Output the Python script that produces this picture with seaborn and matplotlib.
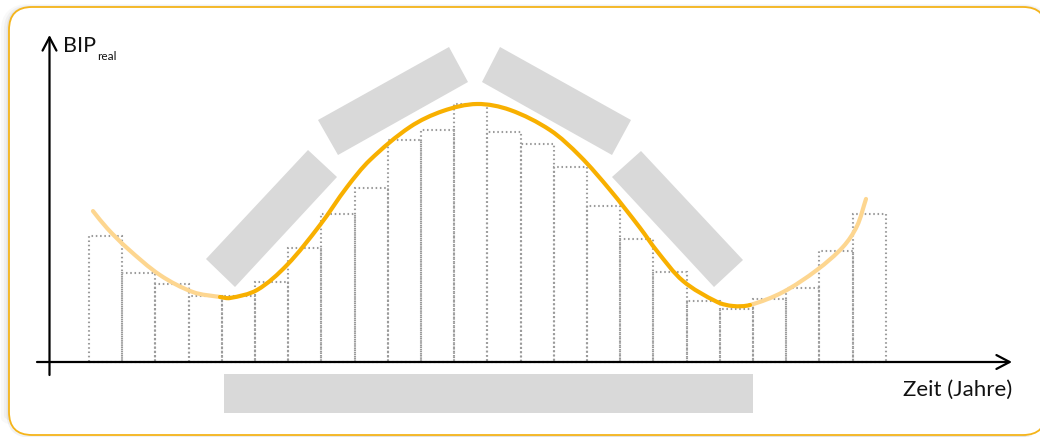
import matplotlib
matplotlib.use("Agg")
import matplotlib.pyplot as plt
import matplotlib.transforms as mtransforms
from matplotlib.patches import Polygon, Rectangle, FancyBboxPatch, PathPatch
from matplotlib.path import Path
import numpy as np
import pandas as pd
import seaborn as sns

# Real GDP per year (index units, peak year = 100)
years = list(range(1, 25))
bip_real = [48.8, 34.5, 30.2, 25.6, 25.6, 31.0, 44.2, 57.4, 67.4, 86.0, 89.9, 100.0,
            89.1, 84.5, 75.6, 60.5, 47.7, 34.9, 23.6, 20.5, 24.4, 28.7, 43.0, 57.4]

# Business-cycle trend curve (x on the same year axis, bar centres at 0..23)
trend_x = [-0.380, 0.042, 0.645, 1.639, 2.633, 3.446, 3.747, 4.560, 5.464, 6.458,
           7.271, 7.964, 9.169, 10.163, 11.187, 12.181, 13.386, 14.289, 15.193, 16.096,
           16.608, 17.392, 18.416, 18.898, 19.410, 20.404, 21.428, 22.211, 22.633, 22.904]
trend_y = [58.5, 51.9, 44.2, 33.7, 27.1, 25.2, 24.8, 27.9, 37.6, 53.1,
           67.8, 78.3, 91.1, 97.3, 100.0, 97.7, 89.9, 79.8, 66.7, 52.0,
           43.0, 31.4, 23.3, 21.7, 22.1, 27.1, 35.7, 44.6, 52.7, 63.2]
# one full cycle (trough to trough) is highlighted
cycle_start, cycle_end = 5, 24

y_label = "BIP"
y_label_sub = "real"
x_label = "Zeit (Jahre)"

ORANGE = "#f8b000"
ORANGE_LIGHT = "#fdd690"
GREY_BOX = "#d9d9d9"
DOTS = "#9b9b9b"

sns.set_style("white")
plt.rcParams["font.family"] = ["Lato", "DejaVu Sans"]

W, H = 1040, 437
fig = plt.figure(figsize=(W / 100, H / 100), dpi=100)
ax = fig.add_axes([0, 0, 1, 1])
ax.set_facecolor("none")
ax.set_zorder(2)

# pixel-style layout transform for frame, labels and placeholder boxes
px = mtransforms.Affine2D().scale(1 / W, -1 / H).translate(0, 1) + fig.transFigure

# rounded frame with a faint shadow (behind the axes)
for off, a in [(4, 0.025), (2.5, 0.035), (1.2, 0.05)]:
    fig.patches.append(FancyBboxPatch((9 - off, 7 + off * 0.3), 1037 + off, 428 + off,
                                      boxstyle="round,pad=0,rounding_size=23",
                                      transform=px, facecolor="none",
                                      edgecolor="black", alpha=a, lw=off * 1.5, zorder=-2))
fig.patches.append(FancyBboxPatch((9, 7), 1037, 428,
                                  boxstyle="round,pad=0,rounding_size=23",
                                  transform=px, facecolor="white",
                                  edgecolor="#f5b41a", lw=1.3, zorder=-1))

# dotted bars for the yearly values
df = pd.DataFrame({"Jahr": years, "BIP": bip_real})
sns.barplot(data=df, x="Jahr", y="BIP", fill=False, color=DOTS, width=1.0,
            errorbar=None, linewidth=1.5, linestyle=(0, (0.75, 1.3)), ax=ax, zorder=2)

# axis ranges so one bar is ~33 px wide
ax.set_xlim(-3.181, 28.145)
ax.set_ylim(-29.07, 140.31)
ax.set_axis_off()


def smooth_path(xs, ys):
    """Smooth cubic path through the given points (tangents from neighbours)."""
    P = ax.transData.transform(np.column_stack([xs, ys]))
    d = np.linalg.norm(np.diff(P, axis=0), axis=1)
    m = np.zeros_like(P)
    m[0] = (P[1] - P[0]) / d[0]
    m[-1] = (P[-1] - P[-2]) / d[-1]
    for i in range(1, len(P) - 1):
        m[i] = (P[i + 1] - P[i - 1]) / (d[i - 1] + d[i])
    verts, codes = [P[0]], [Path.MOVETO]
    for i in range(len(P) - 1):
        verts += [P[i] + m[i] * d[i] / 3, P[i + 1] - m[i + 1] * d[i] / 3, P[i + 1]]
        codes += [Path.CURVE4] * 3
    return Path(ax.transData.inverted().transform(np.array(verts)), codes)


# trend curve: smooth through all points, faded outside the highlighted cycle
full = smooth_path(trend_x, trend_y)
nv = 3  # vertices per segment


def sub_path(i0, i1):
    v = full.vertices[i0 * nv: i1 * nv + 1]
    c = [Path.MOVETO] + [Path.CURVE4] * (len(v) - 1)
    return Path(v, c)


for (i0, i1), col in [((0, cycle_start), ORANGE_LIGHT),
                      ((cycle_end, len(trend_x) - 1), ORANGE_LIGHT),
                      ((cycle_start, cycle_end), ORANGE)]:
    ax.add_patch(PathPatch(sub_path(i0, i1), facecolor="none", edgecolor=col, lw=3.0,
                           capstyle="round", joinstyle="round", zorder=4))

# placeholder boxes for phase labels
boxes = [
    [(308, 150), (337, 177), (235, 287), (206, 259)],
    [(449, 47), (468, 82), (338, 155), (318, 120)],
    [(500, 47), (482, 82), (612, 155), (631, 120)],
    [(641, 151), (612, 177), (714, 287), (743, 260)],
]
for b in boxes:
    ax.add_patch(Polygon(b, closed=True, transform=px, facecolor=GREY_BOX,
                         edgecolor="none", zorder=3, clip_on=False))
ax.add_patch(Rectangle((224, 374), 529, 39, transform=px, facecolor=GREY_BOX,
                       edgecolor="none", zorder=3, clip_on=False))

# coordinate axes with open arrowheads
arrow = dict(arrowstyle="->,head_length=0.95,head_width=0.5", lw=1.6, color="black",
             shrinkA=0, shrinkB=0)
ax.annotate("", xy=(1012, 362), xytext=(37, 362), xycoords=px, textcoords=px,
            arrowprops=arrow, zorder=5)
ax.annotate("", xy=(49.5, 35), xytext=(49.5, 375), xycoords=px, textcoords=px,
            arrowprops=arrow, zorder=5)

ax.text(63, 52, y_label, transform=px, fontsize=15.5, color="#111111",
        ha="left", va="baseline")
ax.text(97, 60, y_label_sub, transform=px, fontsize=8.5, color="#111111",
        ha="left", va="baseline")
ax.text(1012, 396, x_label, transform=px, fontsize=16, color="#111111",
        ha="right", va="baseline")

fig.savefig("out.png", dpi=100, facecolor="white")
